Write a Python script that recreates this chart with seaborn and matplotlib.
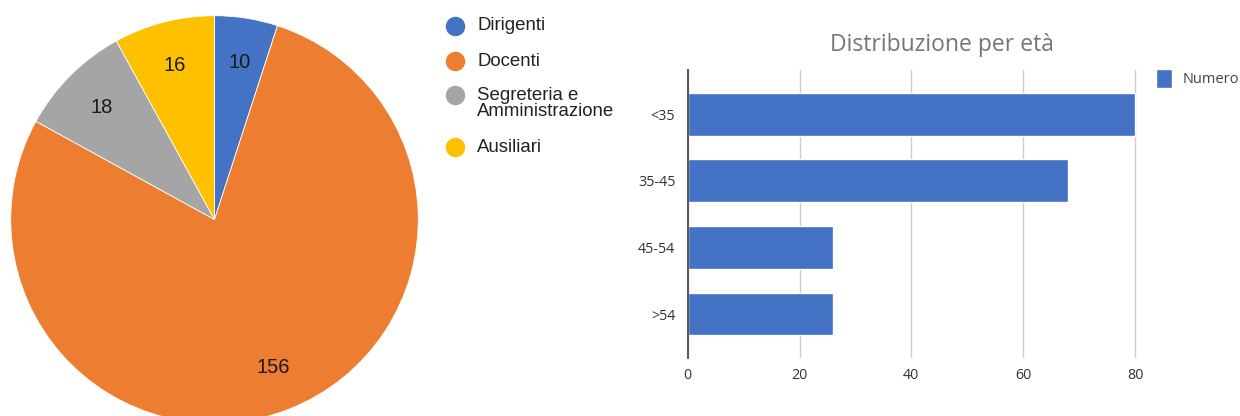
import matplotlib
matplotlib.use("Agg")
import matplotlib.pyplot as plt
from matplotlib.lines import Line2D
import seaborn as sns
import pandas as pd

# ---- data ----
staff_labels = ["Dirigenti", "Docenti", "Segreteria e\nAmministrazione", "Ausiliari"]
staff_values = [10, 156, 18, 16]
staff_colors = ["#4472C4", "#ED7D31", "#A5A5A5", "#FFC000"]

age_groups = ["<35", "35-45", "45-54", ">54"]
age_counts = [80, 68, 26, 26]
age_series = "Numero"
age_title = "Distribuzione per età"
x_ticks = [0, 20, 40, 60, 80]

sns.set_theme(style="white")
plt.rcParams["font.family"] = ["Liberation Sans", "DejaVu Sans"]

W, H = 1240, 416
fig = plt.figure(figsize=(W / 100, H / 100), dpi=100)

# ---- pie ----
R = 203.8
cx, cy = 214.5, 219.5
axp = fig.add_axes([(cx - R) / W, (H - cy - R) / H, 2 * R / W, 2 * R / H])
total = sum(staff_values)
wedges, _, autotexts = axp.pie(
    staff_values, colors=staff_colors, startangle=90, counterclock=False,
    autopct=lambda p: f"{p * total / 100:.0f}", pctdistance=0.78,
    wedgeprops=dict(edgecolor="white", linewidth=0.6),
    textprops=dict(fontsize=14.5, color="#1a1a1a"))
axp.set_xlim(-1, 1)
axp.set_ylim(-1, 1)
axp.set_aspect("equal")
axp.axis("off")

# ---- pie legend ----
leg_x_marker = 455 / W
leg_x_text = 477 / W
leg_y = [26, 61, 95, 147]
for lab, col, y in zip(staff_labels, staff_colors, leg_y):
    fig.add_artist(Line2D([leg_x_marker], [1 - y / H], marker="o", markersize=13,
                          markerfacecolor=col, markeredgecolor=col, linestyle="none",
                          transform=fig.transFigure))
    fig.text(leg_x_text, 1 - (y - 8.5) / H, lab, fontsize=13.4, color="#222222",
             va="top", ha="left", linespacing=0.96)

# ---- bar chart ----
ax_left, ax_right, ax_top, ax_bottom = 687.7, 1137.0, 70.0, 358.0
px_per_unit = (1135.0 - ax_left) / 80
axb = fig.add_axes([ax_left / W, (H - ax_bottom) / H, (ax_right - ax_left) / W, (ax_bottom - ax_top) / H])
df = pd.DataFrame({"group": age_groups, "count": age_counts})
sns.barplot(data=df, x="count", y="group", orient="h", color="#4472C4", saturation=1,
            width=0.645, label=age_series, ax=axb)
axb.set_xlim(0, (ax_right - ax_left) / px_per_unit)
axb.set_ylim(3.66, -0.66)
axb.set_xticks(x_ticks)
axb.set_xlabel("")
axb.set_ylabel("")
for s in ["top", "right", "bottom"]:
    axb.spines[s].set_visible(False)
axb.spines["left"].set_color("#555555")
axb.spines["left"].set_linewidth(1.4)
axb.spines["left"].set_zorder(5)
axb.grid(axis="x", color="#cccccc", linewidth=1.0)
axb.set_axisbelow(True)
axb.tick_params(axis="both", length=0, labelsize=10.3, labelcolor="#333333")
axb.tick_params(axis="x", pad=7)
axb.tick_params(axis="y", pad=9)
for t in axb.get_xticklabels() + axb.get_yticklabels():
    t.set_fontfamily(["Open Sans", "DejaVu Sans"])

leg = axb.legend(loc="upper left", bbox_to_anchor=(1156 / W, 1 - 69 / H),
                 bbox_transform=fig.transFigure, frameon=False,
                 handlelength=1.1, handleheight=1.6, handletextpad=0.75,
                 borderpad=0, borderaxespad=0,
                 prop={"family": ["Open Sans", "DejaVu Sans"], "size": 10.5})
for t in leg.get_texts():
    t.set_color("#444444")

fig.text(942 / W, 1 - 45 / H, age_title, fontsize=16.5, color="#757575",
         ha="center", va="center", family=["Open Sans", "DejaVu Sans"])

fig.savefig("out.png", dpi=100)
